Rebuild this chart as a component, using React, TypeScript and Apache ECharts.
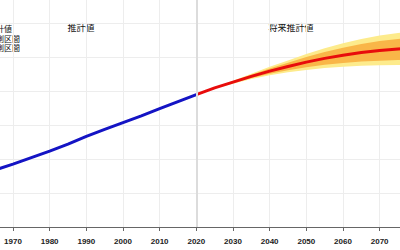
import React, { useEffect, useRef } from "react";
import * as echarts from "echarts";

// Estimated values (billions)
const estYears = [1960, 1965, 1970, 1975, 1980, 1985, 1990, 1995, 2000, 2005, 2010, 2015, 2020];
const estValues = [3.02, 3.34, 3.70, 4.08, 4.46, 4.87, 5.33, 5.74, 6.14, 6.54, 6.96, 7.38, 7.79];

// Projection values
const projYears = [2020, 2025, 2030, 2035, 2040, 2045, 2050, 2055, 2060, 2065, 2070, 2075, 2080];
const projMid = [7.79, 8.18, 8.52, 8.86, 9.17, 9.44, 9.70, 9.92, 10.10, 10.26, 10.38, 10.47, 10.55];
const lo80 = [7.79, 8.16, 8.47, 8.77, 9.02, 9.22, 9.40, 9.54, 9.65, 9.73, 9.78, 9.82, 9.85];
const hi80 = [7.79, 8.20, 8.57, 8.95, 9.32, 9.66, 10.00, 10.30, 10.55, 10.77, 10.94, 11.06, 11.17];
const lo95 = [7.79, 8.15, 8.43, 8.71, 8.93, 9.10, 9.24, 9.35, 9.43, 9.49, 9.52, 9.53, 9.54];
const hi95 = [7.79, 8.21, 8.61, 9.01, 9.42, 9.80, 10.18, 10.52, 10.81, 11.06, 11.26, 11.41, 11.54];

const legendLabels = ["推計値", "95%予測区間", "80%予測区間"];
const periodLabels = ["推計値", "将来推計値"];
const boundaryYear = 2020;

const CJK = "'Noto Sans CJK JP', 'Noto Sans', sans-serif";

// chart canvas is larger than the viewport; the reference is a crop of it
const OX = 30; // canvas offset left (px outside the viewport)
const OY = 20; // canvas offset top

function bandSeries(lo: number[], hi: number[], color: string) {
  return {
    type: "custom",
    silent: true,
    clip: true,
    data: [[projYears[0], lo[0]]],
    renderItem: (_params: any, api: any) => {
      const upper = projYears.map((y, i) => api.coord([y, hi[i]]));
      const lower = projYears.map((y, i) => api.coord([y, lo[i]])).reverse();
      return {
        type: "polygon",
        shape: { points: upper.concat(lower) },
        style: { fill: color, stroke: null },
      };
    },
  };
}

export default function App() {
  const ref = useRef<HTMLDivElement>(null);
  useEffect(() => {
    document.body.style.margin = "0";
    document.body.style.overflow = "hidden";
    document.documentElement.style.overflow = "hidden";
    const chart = echarts.init(ref.current!, null, { renderer: "svg" });
    const zip = (xs: number[], ys: number[]) => xs.map((x, i) => [x, ys[i]]);
    const txt = (text: string, x: number, y: number, size: number, align: string) => ({
      type: "text",
      x: x + OX,
      y: y + OY,
      style: { text, fontSize: size, fontFamily: CJK, fill: "#111", align, verticalAlign: "middle" },
    });
    chart.setOption({
      animation: false,
      grid: {
        left: OX - 23.67,
        right: 460 - (OX - 23.67) - 440,
        top: OY - 11,
        bottom: 23,
        outerBoundsMode: "none",
        containLabel: false,
      },
      xAxis: {
        type: "value",
        min: 1960,
        max: 2080,
        interval: 10,
        axisLine: { show: true, lineStyle: { color: "#666", width: 1 } },
        axisTick: { show: true, length: 4, lineStyle: { color: "#666" } },
        axisLabel: {
          margin: 10,
          fontSize: 8,
          fontWeight: "bold",
          fontFamily: "'Liberation Sans', Arial, sans-serif",
          color: "#222",
          formatter: (v: number) => String(v),
        },
        splitLine: { show: true, lineStyle: { color: "#ededed", width: 1 } },
      },
      yAxis: {
        type: "value",
        min: 0,
        max: 14,
        interval: 2,
        axisLine: { show: false },
        axisTick: { show: false },
        axisLabel: { show: false },
        splitLine: { show: true, lineStyle: { color: "#ededed", width: 1 } },
      },
      series: [
        {
          type: "line",
          data: [],
          silent: true,
          markLine: {
            silent: true,
            symbol: "none",
            label: { show: false },
            lineStyle: { color: "#dcdcdc", width: 2, type: "solid" },
            data: [{ xAxis: boundaryYear }],
          },
        },
        bandSeries(lo95, hi95, "#fdeb8c"),
        bandSeries(lo80, hi80, "#f9b648"),
        {
          type: "line",
          data: zip(estYears, estValues),
          showSymbol: false,
          lineStyle: { color: "#1414c4", width: 3 },
        },
        {
          type: "line",
          data: zip(projYears, projMid),
          showSymbol: false,
          lineStyle: { color: "#e80c0c", width: 3 },
        },
      ],
      graphic: [
        txt(legendLabels[0], 12, 28, 8, "right"),
        txt(legendLabels[1], 20, 38, 8, "right"),
        txt(legendLabels[2], 20, 47.5, 8, "right"),
        txt(periodLabels[0], 81, 27, 9, "center"),
        txt(periodLabels[1], 291, 27, 9, "center"),
      ],
    });
    return () => chart.dispose();
  }, []);
  return (
    <div
      ref={ref}
      style={{ position: "absolute", left: -OX, top: -OY, width: 460, height: 270, background: "#fff" }}
    />
  );
}
